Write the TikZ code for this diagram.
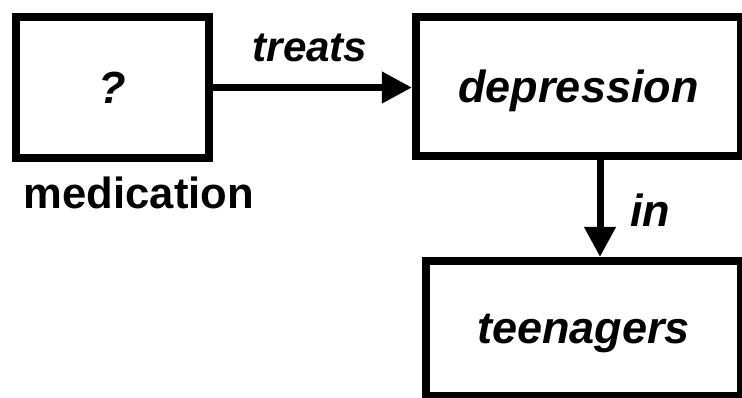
\documentclass[tikz,border=0pt]{standalone}
\usepackage{fontspec}
\setmainfont{Liberation Sans}
\usetikzlibrary{arrows.meta}
\begin{document}
\begin{tikzpicture}[>={Triangle[length=.75cm,width=.75cm]}, line join=miter, x=.025cm, y=-.025cm,
	font=\fontsize{32}{36}\selectfont\bfseries\itshape,
	box/.style={draw, line width=.2cm, inner sep=0pt, text depth=0pt},
	link/.style={->, line width=.175cm}]
	\useasboundingbox (0,0) rectangle (742,397);
	\node[box, minimum width=4.825cm, minimum height=3.525cm] (q) at (112.5,87.5) {?};
	\node[box, minimum width=8.125cm, minimum height=3.475cm] (dep) at (578.5,86.5) {depression};
	\node[box, minimum width=7.875cm, minimum height=3.375cm] (teen) at (583.5,328.5) {teenagers};
	\node[font=\fontsize{31}{36}\selectfont\bfseries] (med) at (139,193) {medication};
	\node[font=\fontsize{30}{36}\selectfont\bfseries\itshape] (treats) at (310,48) {treats};
	\node (in) at (650,210) {in};
	\coordinate (inx) at (600,0);
	\draw[link] (q.east) -- (q.east -| dep.west);
	\draw[link] (dep.south -| inx) -- (teen.north -| inx);
\end{tikzpicture}
\end{document}
